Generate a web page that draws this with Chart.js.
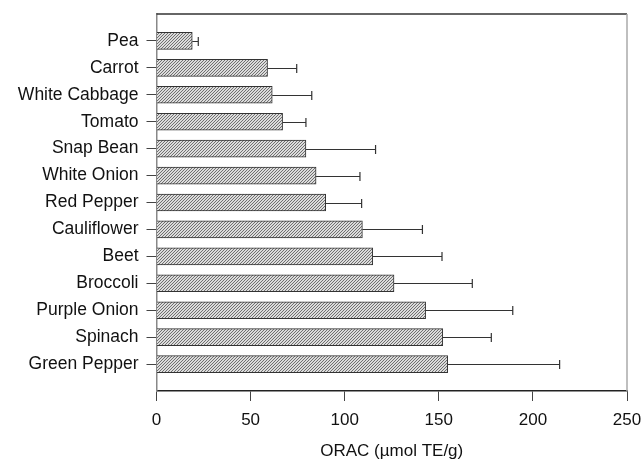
<!DOCTYPE html>
<html>
<head>
<meta charset="utf-8">
<script src="https://cdn.jsdelivr.net/npm/chart.js@4"></script>
<style>
  html, body { margin: 0; padding: 0; background: #fff; }
  #wrap { width: 644px; height: 462px; }
</style>
</head>
<body>
<div id="wrap"><canvas id="myChart" width="644" height="462"></canvas></div>
<script>
// datos
const categorias = ['Pea', 'Carrot', 'White Cabbage', 'Tomato', 'Snap Bean', 'White Onion', 'Red Pepper',
    'Cauliflower', 'Beet', 'Broccoli', 'Purple Onion', 'Spinach', 'Green Pepper'];
const orac = [19, 59, 61.5, 67, 79.4, 84.8, 89.9, 109.4, 114.9, 126.2, 143, 152.1, 154.7];
const oracError = [3.2, 15.5, 21, 12.4, 37, 23.3, 19.1, 31.9, 36.8, 41.6, 46.3, 25.8, 59.5];
const xTicks = [0, 50, 100, 150, 200, 250];

// un hueco arriba y otro abajo, como en el original
const labels = [''].concat(categorias, ['']);
const datos = [null].concat(orac, [null]);
const errores = [null].concat(oracError, [null]);

function rayado() {
    const c = document.createElement('canvas');
    c.width = 3;
    c.height = 3;
    const ctx = c.getContext('2d');
    ctx.fillStyle = '#dcdcdc';
    ctx.fillRect(0, 0, 3, 3);
    ctx.fillStyle = '#707070';
    for (let i = 0; i < 3; i++) {
        ctx.fillRect(i, 2 - i, 1, 1);
    }
    return ctx.createPattern(c, 'repeat');
}

const errorBars = {
    id: 'errorBars',
    afterDatasetsDraw(chart) {
        const ctx = chart.ctx;
        const x = chart.scales.x;
        const meta = chart.getDatasetMeta(0);
        ctx.save();
        ctx.strokeStyle = '#333';
        ctx.lineWidth = 1.2;
        meta.data.forEach((bar, i) => {
            if (datos[i] == null) return;
            const x1 = x.getPixelForValue(datos[i]);
            const x2 = x.getPixelForValue(datos[i] + errores[i]);
            const y = Math.round(bar.y) + 0.5;
            ctx.beginPath();
            ctx.moveTo(x1, y);
            ctx.lineTo(x2, y);
            ctx.moveTo(x2, y - 4.5);
            ctx.lineTo(x2, y + 4.5);
            ctx.stroke();
        });
        ctx.restore();
    }
};

const marco = {
    id: 'marco',
    afterDraw(chart) {
        const a = chart.chartArea;
        const ctx = chart.ctx;
        ctx.save();
        ctx.lineWidth = 1.5;
        ctx.strokeStyle = '#333';
        ctx.beginPath();
        ctx.moveTo(a.left, a.top);
        ctx.lineTo(a.right, a.top);
        ctx.stroke();
        ctx.strokeStyle = '#aaa';
        ctx.beginPath();
        ctx.moveTo(a.right, a.top);
        ctx.lineTo(a.right, a.bottom);
        ctx.stroke();
        ctx.restore();
    }
};

const familia = "'Liberation Sans', Arial, sans-serif";

const config = {
    type: 'bar',
    data: {
        labels: labels,
        datasets: [{
            data: datos,
            backgroundColor: rayado(),
            borderColor: '#333',
            borderWidth: 1,
            barThickness: 17
        }]
    },
    options: {
        indexAxis: 'y',
        responsive: false,
        animation: false,
        layout: { padding: { left: 0, right: 17, top: 14, bottom: 0 } },
        plugins: {
            legend: { display: false },
            tooltip: { enabled: false }
        },
        scales: {
            x: {
                type: 'linear',
                min: 0,
                max: 250,
                afterBuildTicks: (scale) => { scale.ticks = xTicks.map(v => ({ value: v })); },
                afterFit: (scale) => {
                    scale.height = 71;
                    scale.paddingLeft = 0;
                    scale.paddingRight = 0;
                },
                border: { display: true, color: '#222', width: 1.5 },
                grid: { display: true, drawOnChartArea: false, drawTicks: true, tickLength: 10, tickColor: '#444' },
                ticks: { color: '#111', font: { family: familia, size: 17 }, padding: 9, maxRotation: 0 },
                title: {
                    display: true,
                    text: 'ORAC (µmol TE/g)',
                    color: '#111',
                    font: { family: familia, size: 17 },
                    padding: { top: 0, bottom: 0 }
                }
            },
            y: {
                type: 'category',
                offset: false,
                afterFit: (scale) => {
                    scale.width = 156.5;
                    scale.paddingTop = 0;
                    scale.paddingBottom = 0;
                },
                border: { display: true, color: '#888', width: 1.5 },
                grid: {
                    display: true,
                    offset: false,
                    drawOnChartArea: false,
                    drawTicks: true,
                    tickLength: 10,
                    tickColor: (c) => (c.index === 0 || c.index === labels.length - 1) ? 'rgba(0,0,0,0)' : '#444'
                },
                ticks: { color: '#111', font: { family: familia, size: 17.5 }, padding: 8, autoSkip: false }
            }
        }
    },
    plugins: [errorBars, marco]
};

const myChart = new Chart(document.getElementById('myChart'), config);
</script>
</body>
</html>
